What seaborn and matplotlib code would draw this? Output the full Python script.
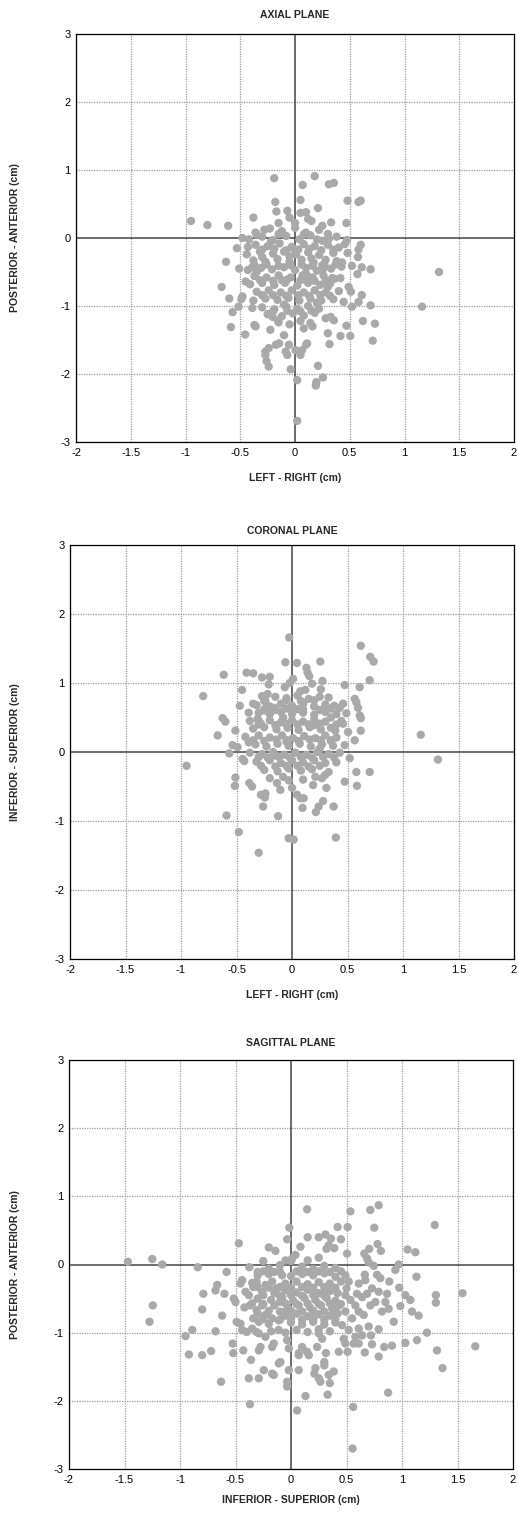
import matplotlib
matplotlib.use("Agg")
import matplotlib.pyplot as plt
import seaborn as sns
import pandas as pd

# ---------------- data (cm) ----------------
axial_x = [
    -0.19, -0.95, -0.80, -0.61, -0.38, -0.18, -0.17, -0.07, 0.07, 0.05, 0.05, -0.36, -0.23, -0.48, -0.53, -0.43,
    -0.63, -0.51, -0.67, -0.60, -0.45, -0.39,
    0.18, 0.31, 0.355, 0.48, 0.58, 0.60, 0.21, 0.10, 0.15, 0.33, 0.47, 0.31, 0.475, 0.60, 0.58, 0.455, 0.48,
    0.575, 0.43, 0.425, 0.52, 0.61, 0.69, 0.57, 1.315, 0.255, 0.49, 0.51, 0.61, 0.415, 0.34,
    -0.49, -0.48, -0.57, -0.585, -0.515, -0.39, -0.455, -0.37, -0.36, -0.225, -0.205, -0.155, -0.10,
    -0.27, -0.24, -0.175, -0.145, -0.27, -0.26, -0.24, -0.085, -0.055, -0.07, 0.005, -0.04, 0.02, 0.02,
    1.16, 0.69, 0.52, 0.445, 0.58, 0.62, 0.73, 0.47, 0.415, 0.505, 0.71, 0.30, 0.315, 0.28, 0.325, 0.355,
    0.16, 0.08, 0.10, 0.11, 0.065, 0.05, 0.21, 0.255, 0.195, 0.19,
    # dense core
    -0.28, -0.12, 0.0, 0.1, 0.22,
    -0.42, -0.3, -0.2, -0.08, 0.04, 0.14, 0.25, 0.38,
    -0.36, -0.25, -0.14, -0.03, 0.08, 0.18, 0.3, 0.4,
    -0.44, -0.32, -0.2, -0.1, 0.01, 0.12, 0.22, 0.35,
    -0.38, -0.27, -0.16, -0.05, 0.06, 0.17, 0.28, 0.38,
    -0.43, -0.31, -0.21, -0.1, 0.0, 0.1, 0.2, 0.33,
    -0.37, -0.26, -0.15, -0.04, 0.07, 0.16, 0.26, 0.36,
    -0.41, -0.3, -0.19, -0.09, 0.02, 0.12, 0.23, 0.32,
    -0.35, -0.24, -0.13, -0.03, 0.08, 0.18, 0.28, 0.4,
    -0.38, -0.27, -0.16, -0.06, 0.04, 0.14, 0.24, 0.35,
    -0.3, -0.19, -0.08, 0.02, 0.12, 0.22,
    -0.25, -0.12, -0.02, 0.08, 0.18,
    -0.15, -0.05, 0.05, 0.14,
    -0.22, 0.2, -0.05, 0.27, -0.35, 0.05, -0.2, 0.3, -0.1, 0.1, -0.3, 0.0, 0.15, -0.12, 0.2,
    -0.05, 0.12, 0.25, -0.15, 0.0,
    -0.3, -0.19, -0.08, 0.03, 0.13, 0.24, 0.35,
    -0.37, -0.26, -0.15, -0.04, 0.06, 0.16, 0.25, 0.37,
    -0.32, -0.2, -0.07, 0.1, 0.18, 0.28,
    -0.3, -0.08, 0.03, 0.13, 0.23, 0.32,
    -0.2, -0.07, 0.05, 0.15,
    -0.35, -0.15, 0.08, 0.3,
]
axial_y = [
    0.88, 0.25, 0.19, 0.18, 0.30, 0.53, 0.39, 0.40, 0.78, 0.56, 0.37, 0.08, 0.14, 0.0, -0.15, -0.13,
    -0.35, -0.45, -0.72, -0.89, -0.64, -0.43,
    0.91, 0.79, 0.81, 0.55, 0.53, 0.55, 0.44, 0.38, 0.25, 0.23, 0.22, -0.01, -0.03, -0.10, -0.17, -0.09, -0.22,
    -0.28, -0.36, -0.42, -0.41, -0.43, -0.46, -0.53, -0.50, -0.46, -0.72, -0.79, -0.84, -0.59, -0.59,
    -0.90, -0.86, -1.09, -1.31, -1.01, -1.03, -1.42, -1.28, -1.30, -1.35, -1.16, -1.21, -1.43,
    -1.67, -1.62, -1.57, -1.55, -1.72, -1.81, -1.89, -1.67, -1.57, -1.72, -1.65, -1.93, -2.09, -2.69,
    -1.01, -0.99, -1.01, -0.94, -0.94, -1.22, -1.26, -1.29, -1.44, -1.44, -1.51, -1.40, -1.56, -1.18, -1.16, -1.21,
    -1.30, -1.33, -1.57, -1.55, -1.65, -1.72, -1.88, -2.05, -2.12, -2.17,
    # dense core
    0.12, 0.1, 0.15, 0.08, 0.12,
    -0.02, 0.02, -0.03, 0.03, -0.02, 0.04, -0.04, 0.02,
    -0.1, -0.12, -0.08, -0.13, -0.09, -0.12, -0.1, -0.14,
    -0.24, -0.2, -0.23, -0.2, -0.24, -0.21, -0.25, -0.22,
    -0.33, -0.35, -0.31, -0.35, -0.32, -0.36, -0.32, -0.34,
    -0.47, -0.44, -0.46, -0.43, -0.47, -0.44, -0.48, -0.45,
    -0.56, -0.58, -0.55, -0.58, -0.55, -0.58, -0.55, -0.6,
    -0.68, -0.66, -0.69, -0.66, -0.7, -0.66, -0.69, -0.67,
    -0.79, -0.77, -0.8, -0.77, -0.8, -0.77, -0.8, -0.78,
    -0.92, -0.89, -0.91, -0.88, -0.92, -0.89, -0.92, -0.9,
    -1.02, -1.05, -1.01, -1.04, -1.0, -1.04,
    -1.12, -1.15, -1.11, -1.14, -1.1,
    -1.24, -1.27, -1.22, -1.25,
    -0.05, -0.02, -0.27, -0.4, -0.5, -0.62, -0.84, -0.72, -0.98, -0.52, -0.28, -0.18, -0.3, -0.62, -0.95,
    0.3, 0.28, 0.18, 0.22, 0.22,
    -0.17, -0.16, -0.18, -0.17, -0.16, -0.18, -0.17,
    -0.4, -0.39, -0.41, -0.4, -0.39, -0.41, -0.4, -0.39,
    -0.62, -0.63, -0.61, -0.62, -0.63, -0.62,
    -0.84, -0.85, -0.84, -0.85, -0.84, -0.85,
    -1.08, -1.07, -1.08, -1.07,
    0.05, 0.06, 0.05, 0.06,
]

coronal_x = [
    -0.025, -0.06, 0.045, -0.615, -0.41, -0.35, -0.27, -0.20, 0.01, -0.21, -0.065, -0.45, 0.075, -0.80,
    -0.35, -0.47, -0.39, -0.625, -0.60, -0.51, -0.67, -0.535, -0.49, -0.39, -0.27, -0.22, -0.24, -0.16,
    -0.31, -0.28,
    0.62, 0.705, 0.735, 0.255, 0.13, 0.14, 0.155, 0.275, 0.70, 0.18, 0.475, 0.61, 0.26, 0.33, 0.565, 0.58,
    0.595, 0.46, 0.43, 0.49, 0.61, 0.62, 0.445, 0.46, 0.62, 1.16, 0.505, 0.565, 0.475, 0.35, 0.39,
    -0.95, -0.565, -0.445, -0.43, -0.51, -0.515, -0.385, -0.36, -0.28, -0.24, -0.245, -0.26, -0.59,
    -0.125, -0.48, -0.03, 0.015, -0.30, -0.105, -0.135, 0.0, 0.045, 0.075, 0.095, -0.03,
    1.315, 0.58, 0.70, 0.475, 0.585, 0.52, 0.33, 0.31, 0.19, 0.28, 0.24, 0.215, 0.375, 0.105, 0.395,
    0.21, 0.27, 0.30,
    # dense core
    -0.15, -0.05, 0.05, 0.15, 0.25,
    -0.32, -0.2, -0.1, 0.0, 0.1, 0.2, 0.3, 0.38,
    -0.3, -0.2, -0.1, 0.0, 0.1, 0.2, 0.3, 0.4,
    -0.38, -0.2, -0.1, 0.0, 0.1, 0.2, 0.3,
    -0.35, -0.25, -0.14, -0.04, 0.06, 0.16, 0.26, 0.35,
    -0.42, -0.3, -0.2, -0.09, 0.01, 0.11, 0.21, 0.3, 0.4,
    -0.33, -0.23, -0.13, -0.03, 0.07, 0.17, 0.27, 0.37,
    -0.38, -0.27, -0.17, -0.07, 0.03, 0.13, 0.23, 0.33, 0.43,
    -0.32, -0.2, -0.1, 0.0, 0.1, 0.2, 0.3, 0.4,
    -0.25, -0.13, -0.03, 0.08, 0.18,
    -0.2, -0.08, 0.1,
    -0.25, 0.05, 0.15, -0.05, 0.25, -0.15, 0.05, -0.3, 0.35, -0.08, 0.12, -0.02,
    -0.25, -0.15, -0.05, 0.1, 0.25, 0.35,
    -0.3, -0.15, -0.05, 0.05, 0.2, 0.25, 0.4,
    -0.35, -0.25, -0.14, -0.04, 0.06, 0.16, 0.26, 0.35,
    -0.3, -0.22, -0.12, -0.02, 0.08, 0.18, 0.28, 0.38,
    -0.28, -0.15, -0.05, 0.15, 0.25,
    -0.25, -0.05, 0.08, 0.2,
]
coronal_y = [
    1.66, 1.30, 1.29, 1.12, 1.15, 1.14, 1.08, 1.09, 1.06, 0.98, 0.94, 0.90, 0.88, 0.81,
    0.70, 0.67, 0.57, 0.49, 0.44, 0.31, 0.24, 0.10, 0.07, 0.14, 0.81, 0.84, 0.74, 0.64,
    0.48, 0.41,
    1.54, 1.38, 1.31, 1.31, 1.22, 1.15, 1.10, 1.03, 1.04, 0.99, 0.97, 0.94, 0.91, 0.79, 0.77, 0.72,
    0.64, 0.70, 0.64, 0.56, 0.53, 0.49, 0.45, 0.41, 0.31, 0.25, 0.29, 0.17, 0.10, 0.17, 0.31,
    -0.20, -0.02, -0.10, -0.13, -0.37, -0.49, -0.45, -0.50, -0.62, -0.60, -0.66, -0.79, -0.92,
    -0.93, -1.16, -1.25, -1.27, -1.46, -0.55, -0.45, -0.52, -0.62, -0.67, -0.81, -0.41,
    -0.11, -0.29, -0.29, -0.43, -0.49, -0.09, -0.29, -0.52, -0.48, -0.71, -0.79, -0.87, -0.79, -0.67, -1.24,
    -0.36, -0.38, -0.33,
    # dense core
    0.8, 0.78, 0.82, 0.77, 0.8,
    0.68, 0.66, 0.7, 0.67, 0.7, 0.66, 0.69, 0.67,
    0.57, 0.55, 0.58, 0.55, 0.57, 0.54, 0.58, 0.55,
    0.45, 0.46, 0.43, 0.46, 0.44, 0.47, 0.44,
    0.34, 0.36, 0.33, 0.35, 0.32, 0.36, 0.33, 0.35,
    0.22, 0.24, 0.21, 0.24, 0.2, 0.23, 0.2, 0.24, 0.21,
    0.11, 0.08, 0.12, 0.09, 0.12, 0.08, 0.11, 0.09,
    -0.01, -0.03, 0.0, -0.04, -0.01, -0.04, 0.0, -0.03, -0.01,
    -0.14, -0.12, -0.16, -0.12, -0.15, -0.12, -0.16, -0.15,
    -0.26, -0.28, -0.24, -0.27, -0.25,
    -0.38, -0.36, -0.4,
    0.6, 0.62, 0.4, 0.15, 0.05, -0.05, -0.2, 0.45, 0.5, 0.5, 0.9, 1.0,
    0.62, 0.61, 0.63, 0.62, 0.61, 0.63,
    0.4, 0.39, 0.41, 0.4, 0.39, 0.41, 0.4,
    0.17, 0.16, 0.18, 0.17, 0.16, 0.18, 0.17, 0.16,
    -0.07, -0.08, -0.07, -0.08, -0.07, -0.08, -0.07, -0.08,
    -0.2, -0.21, -0.2, -0.21, -0.2,
    0.74, 0.75, 0.74, 0.75,
]

sagittal_x = [
    -1.47, -1.25, -1.16, -0.84, -0.58, -0.47, -0.015, -0.035, -0.20, -0.14, -0.375, -0.30, -0.44, -0.455,
    -0.665, -0.68, -0.79, -0.60, -1.245, -1.275, -0.80, -0.62, -0.50, -0.515, -0.49, -0.455, -0.89, -0.68,
    -0.41, -0.38, -0.34, -0.31, -0.26, -0.23, -0.17, -0.13, -0.08, -0.10, -0.05, 0.01, 0.04,
    -0.37, -0.31, -0.26, -0.34, -0.29, -0.23, -0.17, -0.11, -0.08, -0.44, -0.35, -0.29,
    0.145, 0.535, 0.715, 0.79, 1.295, 0.42, 0.51, 0.75, 0.15, 0.25, 0.31, 0.36, 0.45, 0.34, 0.39, 0.32,
    0.085, 0.78, 0.81, 0.705, 0.66, 0.685, 0.70, 0.505, 1.05, 1.12, 0.745, 0.97, 0.94, 1.13, 0.775, 0.805,
    0.665, 0.885, 0.975, 1.305, 1.305, 1.545, 1.03, 1.075, 0.985, 1.09, 1.15, 0.925, 0.85, 0.82, 0.88,
    0.715, 0.76, 0.64, 0.595, 0.685, 0.73, 0.79, 0.865, 0.61, 0.655, 0.58, 0.49, 0.52, 0.61, 0.67,
    0.49, 0.535, 0.43, 0.49, 0.55, 0.46, 0.52, 0.61, 0.70, 0.79,
    -0.95, -0.92, -0.80, -0.72, -0.63, -0.525, -0.52, -0.43, -0.36, -0.38, -0.29, -0.245, -0.155, -0.17,
    -0.37, -0.29, -0.275, -0.23, -0.17, -0.155, -0.095, -0.11, -0.035, -0.02, -0.02, -0.035, -0.035, 0.055,
    0.07, 0.07, -0.40, -0.31, -0.11,
    1.66, 1.315, 1.365, 1.225, 1.135, 1.03, 0.91, 0.84, 0.79, 0.875, 0.665, 0.73, 0.72, 0.64, 0.58, 0.61,
    0.565, 0.51, 0.43, 0.49, 0.475, 0.315, 0.235, 0.16, 0.145, 0.10, 0.07, 0.28, 0.25, 0.30, 0.30,
    0.22, 0.21, 0.25, 0.265, 0.34, 0.385, 0.35, 0.13, 0.33, 0.56, 0.555,
    # dense core
    -0.2, 0.1, 0.2, 0.3, 0.4,
    -0.3, -0.2, 0.0, 0.1, 0.2, 0.3, 0.4,
    -0.35, -0.05, 0.05, 0.15, 0.25, 0.35, 0.45,
    -0.15, -0.05, 0.05, 0.15, 0.25, 0.35, 0.42,
    -0.3, -0.18, -0.08, 0.02, 0.12, 0.22, 0.32, 0.4,
    -0.42, -0.15, -0.03, 0.07, 0.17, 0.27, 0.37,
    -0.3, -0.05, 0.05, 0.15, 0.25, 0.35, 0.42,
    -0.2, 0.0, 0.1, 0.2, 0.3, 0.4,
    -0.18, 0.05, 0.15, 0.25, 0.35, -0.05,
    -0.1, 0.0, 0.15, 0.25, -0.25, 0.45, 0.5, -0.1, 0.3,
    -0.25, -0.15, 0.05, 0.15, 0.25, 0.35,
    -0.3, -0.2, -0.1, 0.0, 0.1, 0.2, 0.3, 0.4,
    -0.35, -0.25, -0.05, 0.05, 0.15, 0.25, 0.35, 0.45,
    -0.25, -0.1, 0.0, 0.1, 0.2, 0.3, 0.4,
    -0.25, -0.1, 0.0, 0.1, 0.2, 0.3,
    -0.2, -0.1, 0.0, 0.1, 0.2, 0.3, 0.4,
]
sagittal_y = [
    0.04, 0.08, 0.0, -0.04, -0.11, 0.31, 0.54, 0.37, 0.25, 0.20, -0.04, -0.11, -0.23, -0.28,
    -0.30, -0.38, -0.43, -0.43, -0.60, -0.84, -0.66, -0.75, -0.55, -0.50, -0.84, -0.87, -0.96, -0.98,
    -0.40, -0.45, -0.33, -0.25, -0.40, -0.30, -0.25, -0.35, -0.16, -0.01, 0.06, 0.09, 0.14,
    -0.60, -0.67, -0.60, -0.79, -0.84, -0.74, -0.79, -0.82, -0.70, -0.96, -0.94, -1.01,
    0.81, 0.78, 0.80, 0.87, 0.58, 0.55, 0.55, 0.54, 0.40, 0.40, 0.44, 0.38, 0.37, 0.28, 0.24, 0.23,
    0.26, 0.30, 0.20, 0.23, 0.16, 0.09, 0.03, 0.16, 0.22, 0.18, -0.02, 0.0, -0.08, -0.18, -0.15, -0.20,
    -0.15, -0.25, -0.34, -0.45, -0.56, -0.42, -0.45, -0.52, -0.61, -0.69, -0.75, -0.84, -0.55, -0.69, -0.65,
    -0.60, -0.55, -0.48, -0.43, -0.43, -0.35, -0.40, -0.43, -0.69, -0.74, -0.60, -0.16, -0.25, -0.28, -0.23,
    -0.45, -0.52, -0.60, -0.69, -0.79, -0.89, -0.96, -0.94, -0.91, -0.95,
    -1.05, -1.32, -1.33, -1.27, -1.72, -1.16, -1.30, -1.26, -1.40, -1.67, -1.67, -1.55, -1.62, -1.60,
    -2.05, -1.26, -1.21, -1.06, -1.21, -1.16, -1.43, -1.45, -1.11, -1.23, -1.55, -1.72, -1.79, -2.14,
    -1.33, -1.55, -0.99, -0.99, -0.96,
    -1.20, -1.26, -1.52, -1.00, -1.11, -1.15, -1.19, -1.21, -1.35, -1.88, -1.29, -1.17, -1.04, -1.04, -1.06, -1.16,
    -1.16, -1.28, -1.28, -1.16, -1.09, -1.30, -1.21, -1.33, -1.28, -1.21, -1.30, -1.09, -1.01, -1.43, -1.48,
    -1.52, -1.60, -1.67, -1.72, -1.62, -1.57, -1.74, -1.93, -1.91, -2.09, -2.70,
    # dense core
    -0.06, -0.03, -0.07, -0.02, -0.05,
    -0.16, -0.14, -0.17, -0.14, -0.16, -0.13, -0.18,
    -0.27, -0.28, -0.25, -0.29, -0.26, -0.28, -0.25,
    -0.42, -0.38, -0.41, -0.37, -0.42, -0.39, -0.42,
    -0.5, -0.52, -0.48, -0.53, -0.49, -0.52, -0.49, -0.53,
    -0.63, -0.6, -0.64, -0.6, -0.63, -0.6, -0.64,
    -0.72, -0.75, -0.72, -0.76, -0.73, -0.75, -0.72,
    -0.87, -0.85, -0.88, -0.84, -0.88, -0.85,
    -0.98, -0.96, -0.99, -0.95, -0.98, -1.0,
    -0.1, 0.05, 0.06, 0.1, 0.05, -0.1, -0.35, -0.55, -0.4,
    -0.1, -0.11, -0.1, -0.11, -0.1, -0.11,
    -0.33, -0.34, -0.33, -0.34, -0.33, -0.34, -0.33, -0.34,
    -0.57, -0.58, -0.57, -0.58, -0.57, -0.58, -0.57, -0.58,
    -0.8, -0.81, -0.8, -0.81, -0.8, -0.81, -0.8,
    -0.45, -0.46, -0.45, -0.46, -0.45, -0.46,
    -0.68, -0.69, -0.68, -0.69, -0.68, -0.69, -0.68,
]

titles = ["AXIAL PLANE", "CORONAL PLANE", "SAGITTAL PLANE"]
xlabels = ["LEFT - RIGHT (cm)", "LEFT - RIGHT (cm)", "INFERIOR - SUPERIOR (cm)"]
ylabels = ["POSTERIOR - ANTERIOR (cm)", "INFERIOR - SUPERIOR (cm)", "POSTERIOR - ANTERIOR (cm)"]
xticks = [-2, -1.5, -1, -0.5, 0, 0.5, 1, 1.5, 2]
xticklabels = ["-2", "-1.5", "-1", "-0.5", "0", "0.5", "1", "1.5", "2"]
yticks = [-3, -2, -1, 0, 1, 2, 3]
yticklabels = ["-3", "-2", "-1", "0", "1", "2", "3"]

# ---------------- figure ----------------
sns.set_theme(style="white")
plt.rcParams["font.family"] = ["Liberation Sans", "DejaVu Sans"]

W, H = 518, 1513
fig = plt.figure(figsize=(W / 100, H / 100), dpi=100)
fig.patch.set_facecolor("white")

# axes boxes in pixels: left, right, top, bottom ; plus title / xlabel y centres
boxes = [(76, 514, 34, 442), (70, 514, 545, 959), (69, 513, 1060, 1469)]
title_y = [15, 531, 1043]
xlabel_y = [478, 995, 1500]
ylabel_x = 15
datasets = [(axial_x, axial_y), (coronal_x, coronal_y), (sagittal_x, sagittal_y)]

for i, ((l, r, t, b), (xs, ys)) in enumerate(zip(boxes, datasets)):
    ax = fig.add_axes([l / W, 1 - b / H, (r - l) / W, (b - t) / H])
    df = pd.DataFrame({"x": xs, "y": ys})
    for v in xticks:
        if v != 0:
            ax.axvline(v, color="#9a9a9a", lw=0.9, ls=(0, (1, 1)), zorder=0)
    for v in yticks:
        if v != 0:
            ax.axhline(v, color="#9a9a9a", lw=0.9, ls=(0, (1, 1)), zorder=0)
    ax.axvline(0, color="#444444", lw=1.1, zorder=1)
    ax.axhline(0, color="#444444", lw=1.1, zorder=1)
    sns.scatterplot(data=df, x="x", y="y", ax=ax, color="#a9a9a9", s=36,
                    linewidth=0, edgecolor="none", zorder=3, legend=False)
    ax.set_xlim(-2, 2)
    ax.set_ylim(-3, 3)
    ax.set_xticks(xticks)
    ax.set_xticklabels(xticklabels)
    ax.set_yticks(yticks)
    ax.set_yticklabels(yticklabels)
    ax.tick_params(axis="both", labelsize=8, length=0, pad=4, colors="black")
    for sp in ax.spines.values():
        sp.set_visible(True)
        sp.set_color("black")
        sp.set_linewidth(0.9)
    ax.set_facecolor("white")
    ax.set_xlabel(xlabels[i], fontsize=7.5, fontweight="bold")
    ax.set_ylabel(ylabels[i], fontsize=7.5, fontweight="bold")
    ax.xaxis.set_label_coords(0.5, -(xlabel_y[i] - b) / (b - t))
    ax.xaxis.label.set_va("center")
    ax.yaxis.set_label_coords((ylabel_x - l) / (r - l), 0.5)
    ax.yaxis.label.set_va("center")
    fig.text((l + r) / 2 / W, 1 - title_y[i] / H, titles[i], fontsize=7.5,
             fontweight="bold", ha="center", va="center")

fig.savefig("out.png", dpi=100, facecolor="white")
